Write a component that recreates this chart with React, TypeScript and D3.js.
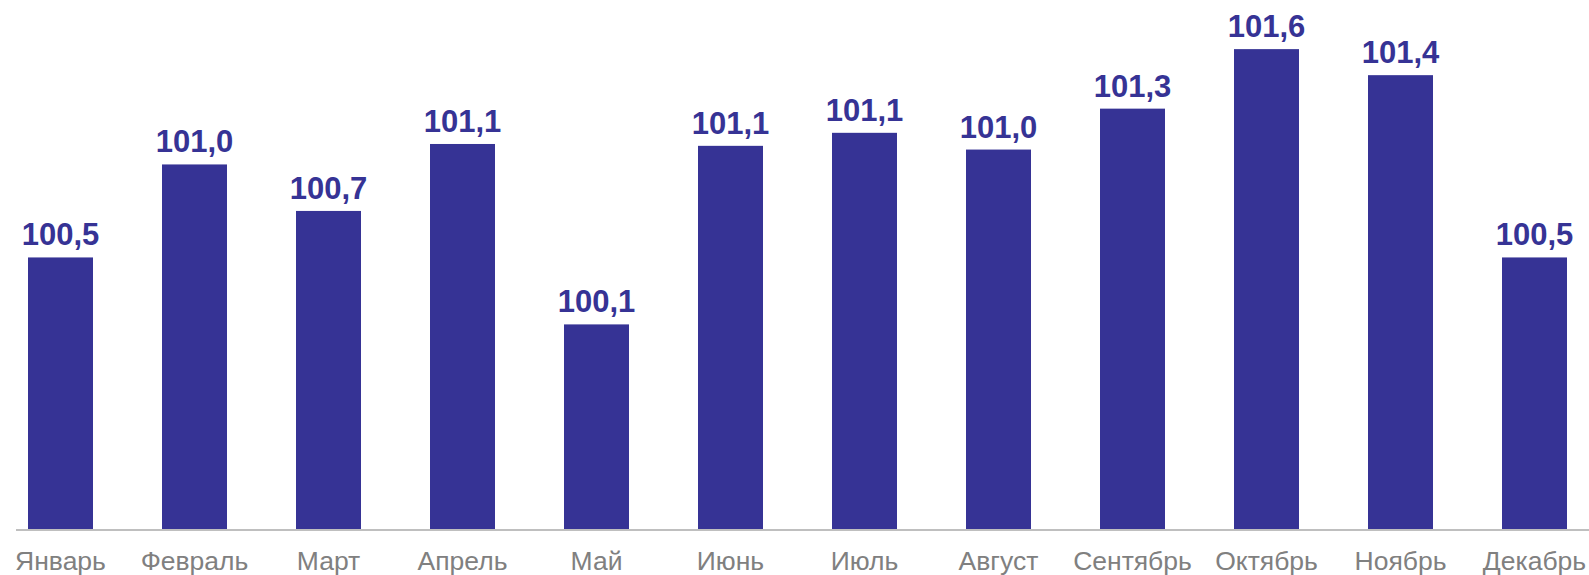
import React, { useEffect, useRef } from 'react';
import * as d3 from 'd3';

const months = [
  'Январь', 'Февраль', 'Март', 'Апрель', 'Май', 'Июнь',
  'Июль', 'Август', 'Сентябрь', 'Октябрь', 'Ноябрь', 'Декабрь'
];

// index values
const values = [
  100.46, 100.96, 100.71, 101.07, 100.1, 101.06,
  101.13, 101.04, 101.26, 101.58, 101.44, 100.46
];

const valueLabels = [
  '100,5', '101,0', '100,7', '101,1', '100,1', '101,1',
  '101,1', '101,0', '101,3', '101,6', '101,4', '100,5'
];

const width = 1589;
const height = 575;
const baseline = 529;

const App = () => {
  const svgRef = useRef<SVGSVGElement>(null);

  useEffect(() => {
    const svg = d3.select(svgRef.current);
    svg.selectAll('*').remove();

    const x = d3
      .scaleBand()
      .domain(months)
      .range([-6.5, 1601.5])
      .paddingInner(0.515)
      .paddingOuter(0.2575);

    const y = d3.scaleLinear().domain([99, 101.8]).range([baseline, baseline - 2.8 * 186]);

    const data = months.map((m, i) => ({ month: m, value: values[i], label: valueLabels[i] }));

    svg
      .selectAll('.bar')
      .data(data)
      .enter()
      .append('rect')
      .attr('class', 'bar')
      .attr('x', d => x(d.month)!)
      .attr('y', d => y(d.value))
      .attr('width', x.bandwidth())
      .attr('height', d => baseline - y(d.value))
      .attr('fill', '#363395');

    svg
      .append('line')
      .attr('x1', 16)
      .attr('x2', width)
      .attr('y1', 530)
      .attr('y2', 530)
      .attr('stroke', '#bfbfbf')
      .attr('stroke-width', 2);

    svg
      .selectAll('.value')
      .data(data)
      .enter()
      .append('text')
      .attr('class', 'value')
      .attr('x', d => x(d.month)! + x.bandwidth() / 2)
      .attr('y', d => y(d.value) - 12)
      .attr('text-anchor', 'middle')
      .attr('font-family', 'Liberation Sans, Arial, sans-serif')
      .attr('font-weight', 'bold')
      .attr('font-size', 31)
      .attr('fill', '#363395')
      .text(d => d.label);

    svg
      .selectAll('.month')
      .data(months)
      .enter()
      .append('text')
      .attr('class', 'month')
      .attr('x', d => x(d)! + x.bandwidth() / 2)
      .attr('y', 569.5)
      .attr('text-anchor', 'middle')
      .attr('font-family', 'Liberation Sans, Arial, sans-serif')
      .attr('font-size', 26.5)
      .attr('fill', '#808080')
      .text(d => d);
  }, []);

  return (
    <svg
      ref={svgRef}
      width={width}
      height={height}
      style={{ position: 'absolute', left: 0, top: 0, background: '#fff' }}
    />
  );
};

export default App;
